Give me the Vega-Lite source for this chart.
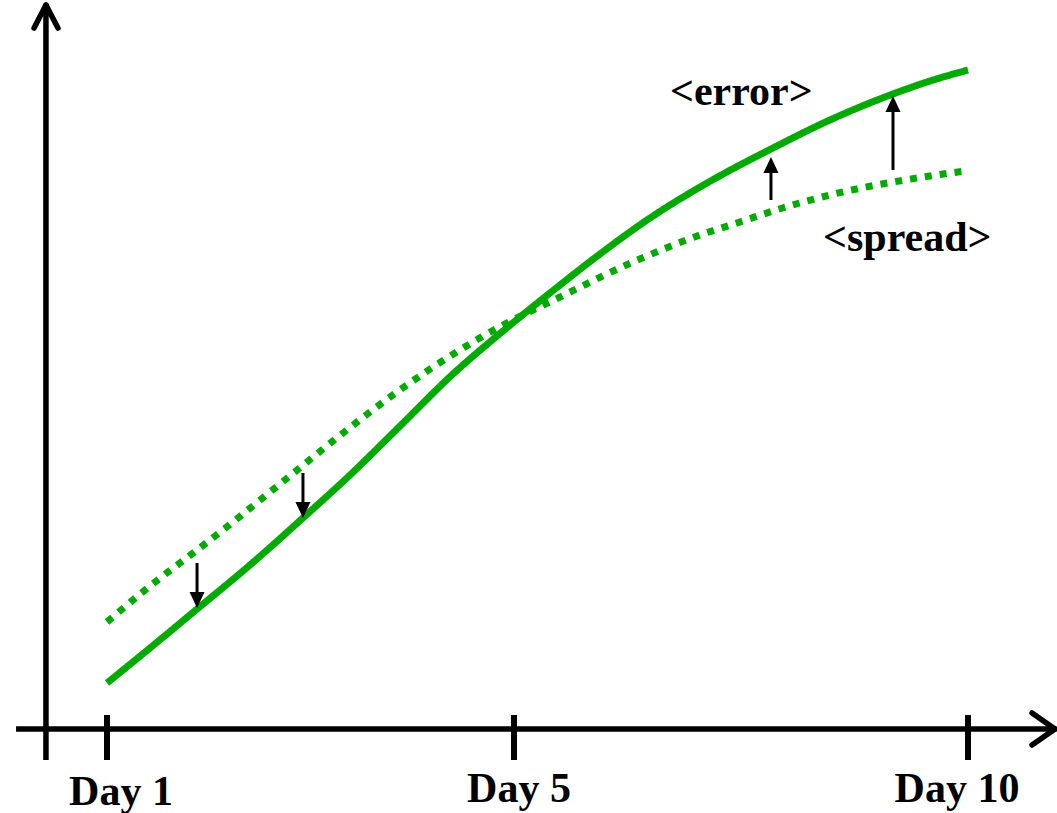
{
  "$schema": "https://vega.github.io/schema/vega-lite/v6.json",
  "width": 1057,
  "height": 813,
  "autosize": "none",
  "padding": 0,
  "background": "white",
  "config": {"view": {"stroke": null}},
  "datasets": {
    "curves": [
      {"series": "error", "day": 1.000, "value": 6.35},
      {"series": "error", "day": 1.423, "value": 11.19},
      {"series": "error", "day": 1.885, "value": 16.57},
      {"series": "error", "day": 2.405, "value": 22.65},
      {"series": "error", "day": 2.936, "value": 29.28},
      {"series": "error", "day": 3.388, "value": 35.08},
      {"series": "error", "day": 3.880, "value": 41.85},
      {"series": "error", "day": 4.400, "value": 49.03},
      {"series": "error", "day": 4.892, "value": 54.97},
      {"series": "error", "day": 5.396, "value": 60.22},
      {"series": "error", "day": 5.947, "value": 65.61},
      {"series": "error", "day": 6.498, "value": 70.58},
      {"series": "error", "day": 7.126, "value": 75.41},
      {"series": "error", "day": 7.852, "value": 80.25},
      {"series": "error", "day": 8.480, "value": 84.12},
      {"series": "error", "day": 9.174, "value": 87.71},
      {"series": "error", "day": 9.581, "value": 89.50},
      {"series": "error", "day": 10.000, "value": 91.02},
      {"series": "spread", "day": 1.000, "value": 14.78},
      {"series": "spread", "day": 1.423, "value": 19.75},
      {"series": "spread", "day": 1.885, "value": 24.72},
      {"series": "spread", "day": 2.238, "value": 28.59},
      {"series": "spread", "day": 2.602, "value": 32.73},
      {"series": "spread", "day": 2.966, "value": 36.88},
      {"series": "spread", "day": 3.221, "value": 39.78},
      {"series": "spread", "day": 3.850, "value": 46.55},
      {"series": "spread", "day": 4.499, "value": 52.62},
      {"series": "spread", "day": 4.892, "value": 55.80},
      {"series": "spread", "day": 5.396, "value": 58.98},
      {"series": "spread", "day": 6.311, "value": 64.50},
      {"series": "spread", "day": 7.048, "value": 68.23},
      {"series": "spread", "day": 7.489, "value": 70.03},
      {"series": "spread", "day": 7.852, "value": 71.55},
      {"series": "spread", "day": 8.480, "value": 73.76},
      {"series": "spread", "day": 9.174, "value": 75.55},
      {"series": "spread", "day": 9.581, "value": 76.38},
      {"series": "spread", "day": 9.967, "value": 77.07}
    ],
    "axes": [
      {"x": 0.106, "y": 0, "x2": 10.958, "y2": 0},
      {"x": 0.4, "y": 100, "x2": 0.4, "y2": -4.28}
    ],
    "chevrons": [
      {"x": 0.283, "y": 96.82, "x2": 0.4, "y2": 100},
      {"x": 0.518, "y": 96.82, "x2": 0.4, "y2": 100},
      {"x": 10.705, "y": 2.21, "x2": 10.958, "y2": 0},
      {"x": 10.705, "y": -2.21, "x2": 10.958, "y2": 0}
    ],
    "ticks": [{"day": 1}, {"day": 5}, {"day": 10}],
    "arrows": [
      {"day": 1.885, "base": 22.93, "head": 17.82, "dir": "down"},
      {"day": 2.926, "base": 35.36, "head": 30.25, "dir": "down"},
      {"day": 7.830, "base": 73.07, "head": 77.90, "dir": "up"},
      {"day": 9.174, "base": 77.21, "head": 86.33, "dir": "up"}
    ],
    "dayLabels": [
      {"day": 1.138, "value": -10.50, "text": "Day 1"},
      {"day": 5.055, "value": -10.08, "text": "Day 5"},
      {"day": 9.879, "value": -10.08, "text": "Day 10"}
    ],
    "notes": [
      {"day": 6.718, "value": 86.19, "text": "<error>"},
      {"day": 8.403, "value": 66.02, "text": "<spread>"}
    ]
  },
  "resolve": {"scale": {"x": "shared", "y": "shared"}},
  "layer": [
    {
      "data": {"name": "axes"},
      "mark": {"type": "rule", "color": "black", "strokeWidth": 5.5, "strokeCap": "butt"},
      "encoding": {
        "x": {"field": "x", "type": "quantitative", "axis": null, "scale": {"domain": [0, 1, 5, 10, 11], "range": [5.25, 107, 514, 968, 1058.8], "zero": false, "nice": false}},
        "y": {"field": "y", "type": "quantitative", "axis": null, "scale": {"domain": [0, 100], "range": [729, 5], "zero": false, "nice": false}},
        "x2": {"field": "x2"},
        "y2": {"field": "y2"}
      }
    },
    {
      "data": {"name": "chevrons"},
      "mark": {"type": "rule", "color": "black", "strokeWidth": 5.5, "strokeCap": "round"},
      "encoding": {
        "x": {"field": "x", "type": "quantitative", "axis": null},
        "y": {"field": "y", "type": "quantitative", "axis": null},
        "x2": {"field": "x2"},
        "y2": {"field": "y2"}
      }
    },
    {
      "data": {"name": "ticks"},
      "mark": {"type": "rule", "color": "black", "strokeWidth": 6, "strokeCap": "butt"},
      "encoding": {
        "x": {"field": "day", "type": "quantitative", "axis": null},
        "y": {"datum": 1.93, "type": "quantitative", "axis": null},
        "y2": {"datum": -4.28}
      }
    },
    {
      "data": {"name": "curves"},
      "mark": {"type": "line", "color": "#00AA00", "strokeWidth": 7, "strokeCap": "butt", "interpolate": "monotone"},
      "encoding": {
        "x": {"field": "day", "type": "quantitative", "axis": null},
        "y": {"field": "value", "type": "quantitative", "axis": null},
        "strokeDash": {"field": "series", "type": "nominal", "legend": null, "scale": {"domain": ["error", "spread"], "range": [[1, 0], [7, 8]]}}
      }
    },
    {
      "data": {"name": "arrows"},
      "mark": {"type": "rule", "color": "black", "strokeWidth": 3, "strokeCap": "butt"},
      "encoding": {
        "x": {"field": "day", "type": "quantitative", "axis": null},
        "y": {"field": "base", "type": "quantitative", "axis": null},
        "y2": {"field": "head"}
      }
    },
    {
      "data": {"name": "arrows"},
      "mark": {"type": "point", "filled": true, "color": "black", "opacity": 1, "size": 1024, "strokeWidth": 0},
      "encoding": {
        "x": {"field": "day", "type": "quantitative", "axis": null},
        "y": {"field": "head", "type": "quantitative", "axis": null},
        "shape": {"field": "dir", "type": "nominal", "legend": null, "scale": {"domain": ["down", "up"], "range": ["M0,0.5L-0.47,-0.5L0.47,-0.5Z", "M0,-0.5L-0.47,0.5L0.47,0.5Z"]}}
      }
    },
    {
      "data": {"name": "dayLabels"},
      "mark": {"type": "text", "font": "Liberation Serif", "fontWeight": "bold", "fontSize": 42, "color": "black", "align": "center", "baseline": "alphabetic"},
      "encoding": {
        "x": {"field": "day", "type": "quantitative", "axis": null},
        "y": {"field": "value", "type": "quantitative", "axis": null},
        "text": {"field": "text", "type": "nominal"}
      }
    },
    {
      "data": {"name": "notes"},
      "mark": {"type": "text", "font": "Liberation Serif", "fontWeight": "bold", "fontSize": 42, "color": "black", "align": "left", "baseline": "alphabetic"},
      "encoding": {
        "x": {"field": "day", "type": "quantitative", "axis": null},
        "y": {"field": "value", "type": "quantitative", "axis": null},
        "text": {"field": "text", "type": "nominal"}
      }
    }
  ]
}
